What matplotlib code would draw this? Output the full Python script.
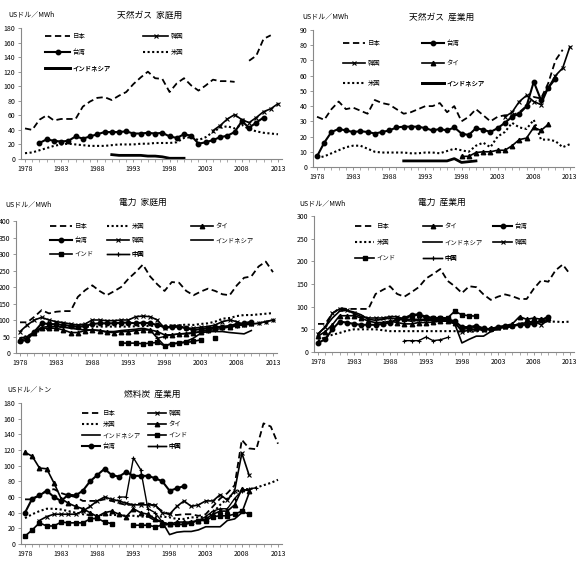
import numpy as np
import matplotlib
matplotlib.use('Agg')
import matplotlib.pyplot as plt
from matplotlib.ticker import MultipleLocator

plt.rcParams['font.family'] = ['Noto Sans CJK JP', 'DejaVu Sans']

# データ (開始年, 値のリスト) ------------------------------------------------
# 天然ガス 家庭用
gh_jp = (1978, [42, 40, 54, 60, 53, 55, 55, 55, 72, 79, 84, 85, 81, 87, 92, 103, 112, 120,
                111, 110, 92, 104, 111, 101, 94, 101, 109, 107, 107, 106, None, 135, 142, 165, 170])
gh_kr = (2004, [39, 46, 55, 61, 54, 50, 57, 65, 69, 76])
gh_tw = (1980, [22, 27, 25, 24, 25, 31, 28, 31, 34, 37, 37, 37, 38, 35, 35, 36, 35, 36, 31, 29,
                34, 32, 21, 23, 26, 30, 32, 37, 52, 43, 50, 57])
gh_us = (1978, [8, 9, 12, 15, 18, 20, 21, 20, 19, 18, 18, 18, 19, 20, 20, 20, 21, 21, 22, 22,
                22, 23, 29, 30, 26, 30, 37, 43, 45, 42, 47, 41, 38, 36, 35, 34])
gh_id = (1990, [6, 5, 5, 5, 5, 4, 4, 3, 1, 1, 1])

# 天然ガス 産業用
gi_jp = (1978, [33, 31, 38, 43, 38, 39, 37, 35, 44, 42, 41, 38, 35, 36, 38, 40, 40, 42, 36, 40,
                30, 33, 38, 34, 30, 33, 34, 34, 36, 40, 46, 45, 55, 70, 77])
gi_tw = (1978, [7, 16, 23, 25, 24, 23, 23.5, 23, 22, 23, 24, 26, 26.5, 26.5, 26.5, 25.5, 24, 25,
                24, 26, 22, 21, 25.5, 24.5, 23, 25.5, 29, 33, 35, 40, 56, 44, 52, 58])
gi_kr = (2004, [33, 36, 43, 47, 43, 41, 52, 60, 65, 79])
gi_th = (1998, [7, 7, 9.5, 10, 10, 11, 11, 14, 18, 19, 26, 24, 28])
gi_us = (1978, [6, 7, 9, 11, 13, 14, 14, 12, 10, 9.5, 9.5, 9.5, 9.5, 9, 9, 9.5, 9.5, 9, 10.5, 12,
                11, 10, 14, 16, 13, 20, 23, 29, 26, 25, 31, 18, 18, 17, 13, 15])
gi_id = (1990, [4, 4, 4, 4, 4, 4, 4, 5.5, 3, 3.5, 4])

# 電力 家庭用
eh_jp = (1978, [93, 93, 110, 130, 120, 125, 127, 127, 170, 190, 205, 188, 175, 187, 200, 225, 245,
                268, 232, 208, 188, 215, 213, 188, 175, 186, 195, 188, 178, 175, 205, 228, 232,
                262, 277, 245])
eh_us = (1978, [45, 52, 60, 70, 75, 78, 80, 80, 80, 80, 80, 80, 80, 80, 80, 80, 81, 82, 82, 83,
                83, 83, 84, 86, 85, 88, 90, 95, 104, 106, 112, 115, 115, 117, 119, 121])
eh_th = (1978, [40, 45, 60, 75, 75, 75, 70, 62, 62, 68, 70, 68, 63, 62, 65, 65, 68, 70, 70, 65,
                55, 55, 58, 58, 60, 65, 70, 75, 78, 80, 85, 88, 90])
eh_tw = (1978, [35, 40, 65, 90, 88, 87, 85, 82, 80, 82, 88, 90, 90, 90, 92, 92, 90, 92, 90, 85,
                78, 78, 80, 75, 70, 72, 75, 78, 80, 82, 88, 90, 95])
eh_kr = (1978, [65, 85, 100, 108, 100, 95, 92, 88, 85, 88, 100, 100, 98, 98, 100, 100, 110, 112,
                110, 100, 75, 82, 82, 75, 75, 78, 80, 85, 95, 100, 95, 85, 88, 90, 95, 100])
eh_id = (1978, [45, 50, 65, 78, 80, 80, 78, 75, 72, 70, 70, 68, 65, 65, 68, 70, 72, 75, 70, 45,
                22, 28, 30, 35, 45, 60, 65, 65, 65, 62, 60, 58, 68])
eh_in = (1992, [30, 30, 30, 28, 30, 32, 22, 28, 30, 32, 35, 40, None, 45])
eh_cn = (1997, [45, 50, 55, 58, 60, 62, 65, 68, 70, 75, 78, 82, 85, 88, 90, 95, 100])

# 電力 産業用
ei_jp = (1978, [62, 62, 85, 97, 95, 95, 95, 95, 128, 137, 145, 128, 122, 132, 143, 162, 172, 183,
                157, 145, 130, 145, 143, 127, 115, 122, 127, 123, 117, 117, 140, 158, 155, 180,
                193, 172])
ei_th = (1978, [35, 45, 60, 80, 80, 80, 75, 68, 65, 65, 68, 65, 62, 62, 65, 65, 66, 68, 68, 63,
                50, 52, 54, 50, 52, 55, 58, 62, 78, 72, 75, 72, 75])
ei_tw = (1978, [20, 28, 50, 67, 65, 62, 60, 60, 60, 62, 65, 72, 75, 82, 83, 78, 75, 75, 72, 68,
                55, 55, 58, 52, 50, 55, 57, 58, 60, 60, 62, 70, 78])
ei_us = (1978, [25, 33, 38, 42, 47, 50, 50, 50, 50, 48, 46, 46, 46, 46, 46, 46, 46, 46, 46, 46,
                45, 45, 45, 50, 48, 50, 53, 57, 62, 63, 68, 68, 67, 67, 66, 67])
ei_id = (1978, [40, 55, 75, 90, 92, 88, 82, 72, 70, 72, 75, 73, 70, 68, 70, 70, 70, 70, 68, 62,
                20, 28, 35, 35, 45, 52, 55, 58, 60, 62, 65, 68, 72])
ei_kr = (1978, [40, 55, 85, 95, 92, 85, 78, 75, 75, 75, 78, 78, 72, 72, 72, 72, 72, 72, 72, 65,
                45, 48, 50, 48, 50, 52, 55, 58, 62, 65, 68, 60, 70])
ei_in = (1990, [72, 80, 82, 75, 75, 76, 75, 90, 82, 80, 79])
ei_cn = (1990, [25, 25, 25, 33, 25, 27, 32])

# 燃料炭 産業用
ci_jp = (1978, [57, 57, 62, 68, 70, 65, 62, 60, 55, 55, 55, 57, 55, 52, 50, 50, 52, 52, 48, 42,
                38, 37, 38, 38, 36, 38, 48, 58, 65, 75, 133, 122, 121, 154, 150, 128])
ci_kr = (1980, [30, 35, 38, 38, 38, 38, 42, 48, 55, 60, 57, 55, 52, 50, 50, 50, 50, 40, 38, 48,
                55, 48, 50, 55, 55, 63, 56, 68, 116, 88])
ci_us = (1978, [33, 38, 42, 45, 45, 44, 42, 40, 38, 37, 37, 37, 37, 37, 36, 36, 35, 35, 35, 35,
                34, 32, 32, 34, 34, 35, 40, 50, 58, 65, 70, 70, 72, 75, 78, 82])
ci_th = (1978, [117, 112, 97, 96, 78, 58, 52, 48, 45, 40, 35, 40, 42, 38, 35, 45, 40, 38, 32, 28,
                25, 28, 28, 28, 30, 32, 38, 42, 42, 50, 70, 68])
ci_id = (1995, [35, 30, 28, 12, 15, 16, 16, 18, 22, 22, 22, 30, 32, 40, 65])
ci_in = (1978, [10, 18, 27, 23, 23, 28, 27, 27, 27, 32, 33, 28, 26, None, None, 24, 24, 24, 22, 24,
                25, 25, 25, 27, 30, 30, 35, 36, 36, 38, 42, 38])
ci_tw = (1978, [40, 58, 62, 68, 60, 55, 63, 62, 68, 80, 88, 96, 88, 86, 92, 87, 87, 87, 84, 80,
                68, 71, 74])
ci_cn = (1991, [60, 60, 110, 95, 45, 40, 28, 25, 25, 25, 28, 30, 35, 42, 45, 45, 58, 68, 70, 72])

years_ticks = list(range(1978, 2014, 5))

# スタイル -----------------------------------------------------------------
st = {
    '日本': dict(ls=(0, (3.5, 2)), lw=1.3, marker=None),
    '米国': dict(ls=(0, (1, 1.2)), lw=1.5, marker=None),
    '台湾': dict(ls='-', lw=1.5, marker='o', ms=3.2),
    '韓国': dict(ls='-', lw=1.2, marker='x', ms=3.5, mew=0.8),
    'タイ': dict(ls='-', lw=1.2, marker='^', ms=3.2),
    'インドネシア': dict(ls='-', lw=1.2, marker=None),
    'インド': dict(ls='-', lw=1.2, marker='s', ms=3),
    '中国': dict(ls='-', lw=1.0, marker='+', ms=3.5, mew=0.8),
}

W, H = 579, 574
FS_LEG = 4.6
fig = plt.figure(figsize=(W / 100, H / 100), dpi=100)


def px_axes(l, t, r, b):
    return fig.add_axes([l / W, 1 - b / H, (r - l) / W, (b - t) / H])


def draw(ax, name, s, lw=None):
    start, vals = s
    x = np.arange(start, start + len(vals))
    y = np.array(vals, dtype=float)
    kw = dict(st[name])
    if lw is not None:
        kw['lw'] = lw
    return ax.plot(x, y, color='black', label=name, **kw)[0]


def setup(ax, ymax, ystep, title, unit, tx, ty, ux, uy):
    ax.set_xlim(1977.5, 2013.5)
    ax.set_ylim(0, ymax)
    ax.set_xticks(years_ticks)
    ax.xaxis.set_minor_locator(MultipleLocator(1))
    ax.yaxis.set_major_locator(MultipleLocator(ystep))
    for sp in ['top', 'right']:
        ax.spines[sp].set_visible(False)
    for sp in ['left', 'bottom']:
        ax.spines[sp].set_color('#888888')
        ax.spines[sp].set_linewidth(0.8)
    ax.tick_params(labelsize=5, length=2.5, width=0.6, color='#888888', pad=2)
    ax.tick_params(which='minor', length=2, width=0.5, color='#888888')
    fig.text(tx / W, 1 - ty / H, title, ha='center', va='center', fontsize=6.3)
    fig.text(ux / W, 1 - uy / H, unit, ha='left', va='center', fontsize=5)


def legend(ax, rows, ncol, xs, ys, hl_px):
    # 凡例項目を1つずつ配置 (xs: 列の左端, ys: 行の中心, ピクセル)
    hs = {h.get_label(): h for h in ax.get_lines()}
    hl = hl_px / (FS_LEG * 100 / 72)
    for i, name in enumerate(rows):
        x = xs[i % ncol]
        y = ys[i // ncol]
        leg = ax.legend([hs[name]], [name], loc='center left',
                        bbox_to_anchor=(x / W, 1 - y / H), bbox_transform=fig.transFigure,
                        frameon=False, fontsize=FS_LEG, handlelength=hl, handletextpad=0.4,
                        borderpad=0, borderaxespad=0)
        ax.add_artist(leg)


# 天然ガス 家庭用
ax1 = px_axes(21.4, 28, 281.6, 159)
draw(ax1, '日本', gh_jp)
draw(ax1, '韓国', gh_kr)
draw(ax1, '台湾', gh_tw)
draw(ax1, '米国', gh_us)
draw(ax1, 'インドネシア', gh_id, lw=2)
setup(ax1, 180, 20, '天然ガス  家庭用', 'USドル／MWh', 150, 15, 8, 14)
legend(ax1, ['日本', '韓国', '台湾', '米国', 'インドネシア'], 2, [45, 143], [36, 52, 68], 25)

# 天然ガス 産業用
ax2 = px_axes(313.4, 30, 573.5, 167)
draw(ax2, '日本', gi_jp)
draw(ax2, '台湾', gi_tw)
draw(ax2, '韓国', gi_kr)
draw(ax2, 'タイ', gi_th)
draw(ax2, '米国', gi_us)
draw(ax2, 'インドネシア', gi_id, lw=2)
setup(ax2, 90, 10, '天然ガス  産業用', 'USドル／MWh', 442, 17, 302, 16)
legend(ax2, ['日本', '台湾', '韓国', 'タイ', '米国', 'インドネシア'], 2, [343, 422], [43, 63, 83], 22)

# 電力 家庭用
ax3 = px_axes(16.4, 221, 276.6, 353)
draw(ax3, '日本', eh_jp)
draw(ax3, '米国', eh_us)
draw(ax3, 'タイ', eh_th)
draw(ax3, '台湾', eh_tw)
draw(ax3, '韓国', eh_kr)
draw(ax3, 'インドネシア', eh_id)
draw(ax3, 'インド', eh_in)
draw(ax3, '中国', eh_cn)
setup(ax3, 400, 50, '電力  家庭用', 'USドル／MWh', 143, 202, 5, 204)
legend(ax3, ['日本', '米国', 'タイ', '台湾', '韓国', 'インドネシア', 'インド', '中国'], 3,
       [50, 107, 191], [226, 240, 254], 22)

# 電力 産業用
ax4 = px_axes(314.4, 216, 573.5, 352)
draw(ax4, '日本', ei_jp)
draw(ax4, 'タイ', ei_th)
draw(ax4, '台湾', ei_tw)
draw(ax4, '米国', ei_us)
draw(ax4, 'インドネシア', ei_id)
draw(ax4, '韓国', ei_kr)
draw(ax4, 'インド', ei_in)
draw(ax4, '中国', ei_cn)
setup(ax4, 300, 50, '電力  産業用', 'USドル／MWh', 442, 202, 299, 203)
legend(ax4, ['日本', 'タイ', '台湾', '米国', 'インドネシア', '韓国', 'インド', '中国'], 3,
       [355, 423, 493], [226, 242, 258], 19)

# 燃料炭 産業用
ax5 = px_axes(21.4, 403, 281.6, 544)
draw(ax5, '日本', ci_jp)
draw(ax5, '韓国', ci_kr)
draw(ax5, '米国', ci_us)
draw(ax5, 'タイ', ci_th)
draw(ax5, 'インドネシア', ci_id)
draw(ax5, 'インド', ci_in)
draw(ax5, '台湾', ci_tw)
draw(ax5, '中国', ci_cn)
setup(ax5, 180, 20, '燃料炭  産業用', 'USドル／トン', 152, 394, 7, 390)
legend(ax5, ['日本', '韓国', '米国', 'タイ', 'インドネシア', 'インド', '台湾', '中国'], 2,
       [82, 148], [413, 424, 435, 446], 18)

fig.savefig('out.png', dpi=100)
